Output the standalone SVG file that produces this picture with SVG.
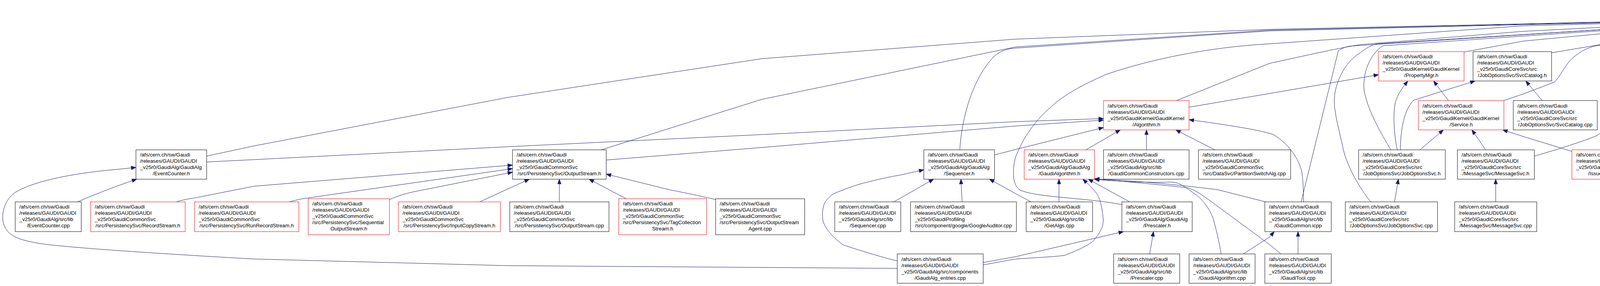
<svg xmlns="http://www.w3.org/2000/svg" width="7794" height="731" viewBox="0 0 7794 731">
<style>
.k{fill:#fff;stroke:#000;stroke-width:1}
.r{fill:#fff;stroke:#ff0000;stroke-width:1}
.g{fill:#bfbfbf;stroke:#000;stroke-width:1}
text{font-family:"Liberation Sans",Arial,sans-serif;font-size:13.33px;fill:#000}
.c{text-anchor:middle}
.e{fill:none;stroke:#191970;stroke-width:1;marker-end:url(#ah)}
</style>
<defs>
<marker id="ah" markerUnits="userSpaceOnUse" markerWidth="13" markerHeight="10" refX="12" refY="4.5" orient="auto" overflow="visible">
<path d="M0,0 L12,4.5 L0,9 z" fill="#191970" stroke="#191970" stroke-width="1"/>
</marker>
</defs>
<rect x="0" y="0" width="7794" height="731" fill="#fff"/>
<g id="edges">
<path class="e" d="M529,399 L650,373 L1300,249 L1950,150 L2600,100 L3250,75 L3900,61 L4429,48"/>
<path class="e" d="M1536,384 L1950,254 L2600,120 L3250,77 L3900,62 L4429,50"/>
<path class="e" d="M2457,384 C2462,300 2490,200 2545,144 C2560,130 2580,124 2600,123 L3250,79 L3900,63 L4429,51"/>
<path class="e" d="M2872,523 C2780,505 2650,505 2610,485 C2590,470 2592,430 2600,401 C2620,350 2650,310 2683,280 C2720,245 2760,222 2832,190 C2950,150 3100,120 3250,112 L3900,66 L4429,52"/>
<path class="e" d="M3012,257 L3250,162 C3320,147 3420,124 3482,114 L3900,80 L4429,53"/>
<path class="e" d="M3331,516 L3426,130 C3435,123 3445,120 3455,118 L4429,54"/>
<path class="e" d="M3509,516 C3480,480 3445,420 3437,373 C3425,320 3414,280 3416,250 C3418,215 3440,160 3482,135 C3495,125 3510,115 3524,112 L4429,55"/>
<path class="e" d="M3561,384 C3535,340 3500,280 3492,230 C3488,190 3505,140 3540,117 L4429,56"/>
<path class="e" d="M3577,384 C3568,340 3566,290 3572,262 C3578,240 3592,222 3604,207"/>
<path class="e" d="M3585,384 C3585,330 3595,280 3619,256 L3776,207"/>
<path class="e" d="M3634,384 L3695,332"/>
<path class="e" d="M3804,384 L3768,332"/>
<path class="e" d="M4024,387 L3900,349 L3847,332"/>
<path class="e" d="M3708,257 L3670,207"/>
<path class="e" d="M3850,257 L3900,240 C3940,225 3965,215 3979,210 C3995,195 4005,170 4020,154 C4040,135 4060,122 4087,117 L4429,57"/>
<path class="e" d="M3928,399 C3960,390 4060,360 4091,345 C4110,330 4118,300 4117,270 C4115,240 4100,210 4101,196 C4102,165 4110,130 4140,112 L4429,58"/>
<path class="e" d="M4128,384 C4140,360 4148,300 4149,280 C4150,250 4138,220 4136,210 C4130,185 4124,160 4127,150 C4130,130 4150,112 4174,107 L4429,59"/>
<path class="e" d="M3748,133 L3900,105 L4429,55"/>
<path class="e" d="M3972,135 L4429,58"/>
<path class="e" d="M3948,257 L3906,207"/>
<path class="e" d="M4351,132 L4457,82"/>
<path class="e" d="M4538,132 L4538,82"/>
<path class="e" d="M4720,132 L4618,82"/>
<path class="e" d="M4927,135 L4647,69"/>
<path class="e" d="M5176,132 C5017,91 4806,63 4647,63"/>
<path class="e" d="M5417,132 C5186,89 4878,60 4647,60"/>
<path class="e" d="M5659,132 C5355,88 4951,58 4647,58"/>
<path class="e" d="M5902,132 C5526,86 5024,56 4647,56"/>
<path class="e" d="M6096,132 C5661,85 5082,54 4647,54"/>
<path class="e" d="M6288,132 C5796,84 5139,52 4647,52"/>
<path class="e" d="M6482,132 C5932,83 5198,50 4647,50"/>
<path class="e" d="M6676,132 C6067,82 5256,49 4647,49"/>
<path class="e" d="M6914,132 C6234,82 5327,48 4647,48"/>
<path class="e" d="M7108,132 C6370,81 5385,47 4647,47"/>
<path class="e" d="M7349,132 C6538,80 5458,46 4647,46"/>
<path class="e" d="M7588,132 C6706,80 5529,45 4647,45"/>
<path class="e" d="M529,414 L650,408 L1300,375 L1950,344 L2600,311 L2825,303"/>
<path class="e" d="M1552,409 L1950,377 L2600,322 L2825,307"/>
<path class="e" d="M2546,396 L2600,382 L2825,326"/>
<path class="e" d="M2778,384 L2868,332"/>
<path class="e" d="M2935,383 L2935,332"/>
<path class="e" d="M3112,384 L3010,332"/>
<path class="e" d="M3337,516 C3337,480 3335,443 3330,430 C3320,400 3300,370 3262,345 C3240,335 3150,320 3044,306"/>
<path class="e" d="M3044,274 L3250,239 L3529,191"/>
<path class="e" d="M451,516 C470,510 490,507 498,506 L650,476 L1312,422"/>
<path class="e" d="M741,516 C755,512 765,510 774,508 L1312,431"/>
<path class="e" d="M997,510 C1020,500 1040,494 1065,489 L1312,440"/>
<path class="e" d="M1228,516 L1300,483 L1355,458"/>
<path class="e" d="M1432,516 L1432,458"/>
<path class="e" d="M1605,509 L1508,458"/>
<path class="e" d="M1832,510 C1780,498 1720,486 1714,485 L1552,445"/>
<path class="e" d="M199,516 C230,502 290,478 350,458"/>
<path class="e" d="M2297,686 L1300,679 L650,662 C400,648 160,632 100,622 C40,612 20,600 10,575 C0,545 15,505 42,490 C80,468 150,450 249,438 L348,428"/>
<path class="e" d="M2288,516 L2390,458"/>
<path class="e" d="M2463,516 L2460,458"/>
<path class="e" d="M2639,516 C2620,505 2605,498 2600,495 L2533,458"/>
<path class="e" d="M2297,667 C2230,650 2170,630 2157,625 C2130,605 2108,580 2106,559 C2104,540 2108,525 2112,517 C2120,505 2130,497 2137,494 C2170,480 2200,470 2219,466 C2260,455 2300,448 2302,448 L2365,434"/>
<path class="e" d="M2517,677 L2600,662 C2660,658 2700,656 2724,653 C2760,640 2790,625 2799,615 C2818,595 2826,575 2824,559 C2822,530 2815,505 2807,494 C2795,478 2783,468 2772,458"/>
<path class="e" d="M2517,671 L2600,656 L2876,592"/>
<path class="e" d="M2711,516 L2711,458"/>
<path class="e" d="M2892,516 L2786,458"/>
<path class="e" d="M3126,649 C3120,610 3110,575 3106,559 C3095,530 3075,505 3056,494 C3040,482 3025,472 3015,468 C3000,464 2985,466 2973,466 C2900,466 2840,462 2801,458"/>
<path class="e" d="M3240,516 L3118,485 C3000,470 2900,462 2802,457"/>
<path class="e" d="M3279,649 L3250,625 L3110,522 C3080,500 3060,485 3040,480 C2950,470 2860,462 2802,458"/>
<path class="e" d="M3183,649 L3250,606 L3262,592"/>
<path class="e" d="M3323,649 L3323,592"/>
<path class="e" d="M2943,649 L2953,592"/>
<path class="e" d="M3570,516 L3580,458"/>
<path class="e" d="M3829,516 L3829,458"/>
</g>
<g id="n_Property_h"><rect class="g" x="4429" y="7" width="218" height="75"/><text x="4439.5" y="24">/afs/cern.ch/sw/Gaudi</text><text x="4439.5" y="40">/releases/GAUDI/GAUDI</text><text x="4439.5" y="56">_v25r0/GaudiKernel/GaudiKernel</text><text class="c" x="4538" y="72">/Property.h</text></g>
<g id="n_PropertyMgr_h"><rect class="r" x="3529" y="132" width="219" height="75"/><text x="3539.5" y="149">/afs/cern.ch/sw/Gaudi</text><text x="3539.5" y="165">/releases/GAUDI/GAUDI</text><text x="3539.5" y="181">_v25r0/GaudiKernel/GaudiKernel</text><text class="c" x="3638.5" y="197">/PropertyMgr.h</text></g>
<g id="n_SvcCatalog_h"><rect class="k" x="3771" y="132" width="201" height="75"/><text x="3781.5" y="149">/afs/cern.ch/sw/Gaudi</text><text x="3781.5" y="165">/releases/GAUDI/GAUDI</text><text x="3781.5" y="181">_v25r0/GaudiCoreSvc/src</text><text class="c" x="3871.5" y="197">/JobOptionsSvc/SvcCatalog.h</text></g>
<g id="n_HistogramSvc_cpp"><rect class="k" x="4148" y="132" width="245" height="75"/><text x="4158.5" y="149">/afs/cern.ch/sw/Gaudi</text><text x="4158.5" y="165">/releases/GAUDI/GAUDI</text><text x="4158.5" y="181">_v25r0/GaudiCommonSvc</text><text class="c" x="4270.5" y="197">/src/HistogramSvc/HistogramSvc.cpp</text></g>
<g id="n_DataOnDemandSvc_cpp"><rect class="k" x="4417" y="132" width="244" height="75"/><text x="4427.5" y="149">/afs/cern.ch/sw/Gaudi</text><text x="4427.5" y="165">/releases/GAUDI/GAUDI</text><text x="4427.5" y="181">_v25r0/GaudiCoreSvc/src</text><text class="c" x="4539" y="197">/IncidentSvc/DataOnDemandSvc.cpp</text></g>
<g id="n_AppReturnCode_h"><rect class="r" x="4686" y="132" width="218" height="75"/><text x="4696.5" y="149">/afs/cern.ch/sw/Gaudi</text><text x="4696.5" y="165">/releases/GAUDI/GAUDI</text><text x="4696.5" y="181">_v25r0/GaudiKernel/GaudiKernel</text><text class="c" x="4795" y="197">/AppReturnCode.h</text></g>
<g id="n_CommandProperty_h"><rect class="r" x="4927" y="132" width="220" height="75"/><text x="4937.5" y="149">/afs/cern.ch/sw/Gaudi</text><text x="4937.5" y="165">/releases/GAUDI/GAUDI</text><text x="4937.5" y="181">_v25r0/GaudiKernel/GaudiKernel</text><text class="c" x="5037" y="197">/CommandProperty.h</text></g>
<g id="n_EventSelectorDataStream_h"><rect class="r" x="5171" y="132" width="219" height="75"/><text x="5181.5" y="149">/afs/cern.ch/sw/Gaudi</text><text x="5181.5" y="165">/releases/GAUDI/GAUDI</text><text x="5181.5" y="181">_v25r0/GaudiKernel/GaudiKernel</text><text class="c" x="5280.5" y="197">/EventSelectorDataStream.h</text></g>
<g id="n_HistoProperty_h"><rect class="r" x="5414" y="132" width="218" height="75"/><text x="5424.5" y="149">/afs/cern.ch/sw/Gaudi</text><text x="5424.5" y="165">/releases/GAUDI/GAUDI</text><text x="5424.5" y="181">_v25r0/GaudiKernel/GaudiKernel</text><text class="c" x="5523" y="197">/HistoProperty.h</text></g>
<g id="n_PropertyList_h"><rect class="k" x="5656" y="132" width="219" height="75"/><text x="5666.5" y="149">/afs/cern.ch/sw/Gaudi</text><text x="5666.5" y="165">/releases/GAUDI/GAUDI</text><text x="5666.5" y="181">_v25r0/GaudiKernel/GaudiKernel</text><text class="c" x="5765.5" y="197">/PropertyList.h</text></g>
<g id="n_GaudiMain_cpp"><rect class="k" x="5899" y="132" width="170" height="75"/><text x="5909.5" y="149">/afs/cern.ch/sw/Gaudi</text><text x="5909.5" y="165">/releases/GAUDI/GAUDI</text><text x="5909.5" y="181">_v25r0/GaudiKernel/src</text><text class="c" x="5984" y="197">/Lib/GaudiMain.cpp</text></g>
<g id="n_HistoryObj_cpp"><rect class="k" x="6093" y="132" width="169" height="75"/><text x="6103.5" y="149">/afs/cern.ch/sw/Gaudi</text><text x="6103.5" y="165">/releases/GAUDI/GAUDI</text><text x="6103.5" y="181">_v25r0/GaudiKernel/src</text><text class="c" x="6177.5" y="197">/Lib/HistoryObj.cpp</text></g>
<g id="n_JobHistory_cpp"><rect class="k" x="6285" y="132" width="171" height="75"/><text x="6295.5" y="149">/afs/cern.ch/sw/Gaudi</text><text x="6295.5" y="165">/releases/GAUDI/GAUDI</text><text x="6295.5" y="181">_v25r0/GaudiKernel/src</text><text class="c" x="6370.5" y="197">/Lib/JobHistory.cpp</text></g>
<g id="n_Property_cpp"><rect class="k" x="6479" y="132" width="169" height="75"/><text x="6489.5" y="149">/afs/cern.ch/sw/Gaudi</text><text x="6489.5" y="165">/releases/GAUDI/GAUDI</text><text x="6489.5" y="181">_v25r0/GaudiKernel/src</text><text class="c" x="6563.5" y="197">/Lib/Property.cpp</text></g>
<g id="n_IoComponentMgr_cpp"><rect class="k" x="6673" y="132" width="215" height="75"/><text x="6683.5" y="149">/afs/cern.ch/sw/Gaudi</text><text x="6683.5" y="165">/releases/GAUDI/GAUDI</text><text x="6683.5" y="181">_v25r0/GaudiMP/src/component</text><text class="c" x="6780.5" y="197">/IoComponentMgr.cpp</text></g>
<g id="n_Helpers_cpp"><rect class="k" x="6911" y="132" width="170" height="75"/><text x="6921.5" y="149">/afs/cern.ch/sw/Gaudi</text><text x="6921.5" y="165">/releases/GAUDI/GAUDI</text><text x="6921.5" y="181">_v25r0/GaudiPython/src</text><text class="c" x="6996" y="197">/Lib/Helpers.cpp</text></g>
<g id="n_NTupleSvc_cpp"><rect class="k" x="7105" y="132" width="216" height="75"/><text x="7115.5" y="149">/afs/cern.ch/sw/Gaudi</text><text x="7115.5" y="165">/releases/GAUDI/GAUDI</text><text x="7115.5" y="181">_v25r0/GaudiSvc/src/NTupleSvc</text><text class="c" x="7213" y="197">/NTupleSvc.cpp</text></g>
<g id="n_TagCollectionSvc_cpp"><rect class="k" x="7346" y="132" width="216" height="75"/><text x="7356.5" y="149">/afs/cern.ch/sw/Gaudi</text><text x="7356.5" y="165">/releases/GAUDI/GAUDI</text><text x="7356.5" y="181">_v25r0/GaudiSvc/src/NTupleSvc</text><text class="c" x="7454" y="197">/TagCollectionSvc.cpp</text></g>
<g id="n_THistSvc_cpp"><rect class="k" x="7585" y="132" width="204" height="75"/><text x="7595.5" y="149">/afs/cern.ch/sw/Gaudi</text><text x="7595.5" y="165">/releases/GAUDI/GAUDI</text><text x="7595.5" y="181">_v25r0/GaudiSvc/src/THistSvc</text><text class="c" x="7687" y="197">/THistSvc.cpp</text></g>
<g id="n_Algorithm_h"><rect class="r" x="2825" y="257" width="219" height="75"/><text x="2835.5" y="275">/afs/cern.ch/sw/Gaudi</text><text x="2835.5" y="291">/releases/GAUDI/GAUDI</text><text x="2835.5" y="307">_v25r0/GaudiKernel/GaudiKernel</text><text class="c" x="2934.5" y="323">/Algorithm.h</text></g>
<g id="n_Service_h"><rect class="r" x="3631" y="257" width="219" height="75"/><text x="3641.5" y="275">/afs/cern.ch/sw/Gaudi</text><text x="3641.5" y="291">/releases/GAUDI/GAUDI</text><text x="3641.5" y="307">_v25r0/GaudiKernel/GaudiKernel</text><text class="c" x="3740.5" y="323">/Service.h</text></g>
<g id="n_SvcCatalog_cpp"><rect class="k" x="3874" y="257" width="215" height="75"/><text x="3884.5" y="275">/afs/cern.ch/sw/Gaudi</text><text x="3884.5" y="291">/releases/GAUDI/GAUDI</text><text x="3884.5" y="307">_v25r0/GaudiCoreSvc/src</text><text class="c" x="3981.5" y="323">/JobOptionsSvc/SvcCatalog.cpp</text></g>
<g id="n_EventCounter_h"><rect class="k" x="348" y="383" width="181" height="75"/><text x="358.5" y="400">/afs/cern.ch/sw/Gaudi</text><text x="358.5" y="416">/releases/GAUDI/GAUDI</text><text x="358.5" y="432">_v25r0/GaudiAlg/GaudiAlg</text><text class="c" x="438.5" y="448">/EventCounter.h</text></g>
<g id="n_OutputStream_h"><rect class="k" x="1312" y="383" width="240" height="75"/><text x="1322.5" y="400">/afs/cern.ch/sw/Gaudi</text><text x="1322.5" y="416">/releases/GAUDI/GAUDI</text><text x="1322.5" y="432">_v25r0/GaudiCommonSvc</text><text class="c" x="1432" y="448">/src/PersistencySvc/OutputStream.h</text></g>
<g id="n_Sequencer_h"><rect class="k" x="2365" y="383" width="181" height="75"/><text x="2375.5" y="400">/afs/cern.ch/sw/Gaudi</text><text x="2375.5" y="416">/releases/GAUDI/GAUDI</text><text x="2375.5" y="432">_v25r0/GaudiAlg/GaudiAlg</text><text class="c" x="2455.5" y="448">/Sequencer.h</text></g>
<g id="n_GaudiAlgorithm_h"><rect class="r" x="2622" y="383" width="180" height="75"/><text x="2632.5" y="400">/afs/cern.ch/sw/Gaudi</text><text x="2632.5" y="416">/releases/GAUDI/GAUDI</text><text x="2632.5" y="432">_v25r0/GaudiAlg/GaudiAlg</text><text class="c" x="2712" y="448">/GaudiAlgorithm.h</text></g>
<g id="n_GaudiCommonConstructors_cpp"><rect class="k" x="2825" y="383" width="219" height="75"/><text x="2835.5" y="400">/afs/cern.ch/sw/Gaudi</text><text x="2835.5" y="416">/releases/GAUDI/GAUDI</text><text x="2835.5" y="432">_v25r0/GaudiAlg/src/lib</text><text class="c" x="2934.5" y="448">/GaudiCommonConstructors.cpp</text></g>
<g id="n_PartitionSwitchAlg_cpp"><rect class="k" x="3068" y="383" width="236" height="75"/><text x="3078.5" y="400">/afs/cern.ch/sw/Gaudi</text><text x="3078.5" y="416">/releases/GAUDI/GAUDI</text><text x="3078.5" y="432">_v25r0/GaudiCommonSvc</text><text class="c" x="3186" y="448">/src/DataSvc/PartitionSwitchAlg.cpp</text></g>
<g id="n_JobOptionsSvc_h"><rect class="k" x="3478" y="383" width="222" height="75"/><text x="3488.5" y="400">/afs/cern.ch/sw/Gaudi</text><text x="3488.5" y="416">/releases/GAUDI/GAUDI</text><text x="3488.5" y="432">_v25r0/GaudiCoreSvc/src</text><text class="c" x="3589" y="448">/JobOptionsSvc/JobOptionsSvc.h</text></g>
<g id="n_MessageSvc_h"><rect class="k" x="3731" y="383" width="197" height="75"/><text x="3741.5" y="400">/afs/cern.ch/sw/Gaudi</text><text x="3741.5" y="416">/releases/GAUDI/GAUDI</text><text x="3741.5" y="432">_v25r0/GaudiCoreSvc/src</text><text class="c" x="3829.5" y="448">/MessageSvc/MessageSvc.h</text></g>
<g id="n_IssueLogger_h"><rect class="r" x="4024" y="383" width="170" height="75"/><text x="4034.5" y="400">/afs/cern.ch/sw/Gaudi</text><text x="4034.5" y="416">/releases/GAUDI/GAUDI</text><text x="4034.5" y="432">_v25r0/GaudiMonitor/src</text><text class="c" x="4109" y="448">/IssueLogger.h</text></g>
<g id="n_EventCounter_cpp"><rect class="k" x="39" y="516" width="169" height="76"/><text x="49.5" y="533">/afs/cern.ch/sw/Gaudi</text><text x="49.5" y="549">/releases/GAUDI/GAUDI</text><text x="49.5" y="565">_v25r0/GaudiAlg/src/lib</text><text class="c" x="123.5" y="581">/EventCounter.cpp</text></g>
<g id="n_RecordStream_h"><rect class="r" x="232" y="516" width="242" height="76"/><text x="242.5" y="533">/afs/cern.ch/sw/Gaudi</text><text x="242.5" y="549">/releases/GAUDI/GAUDI</text><text x="242.5" y="565">_v25r0/GaudiCommonSvc</text><text class="c" x="353" y="581">/src/PersistencySvc/RecordStream.h</text></g>
<g id="n_RunRecordStream_h"><rect class="r" x="498" y="516" width="267" height="76"/><text x="508.5" y="533">/afs/cern.ch/sw/Gaudi</text><text x="508.5" y="549">/releases/GAUDI/GAUDI</text><text x="508.5" y="565">_v25r0/GaudiCommonSvc</text><text class="c" x="631.5" y="581">/src/PersistencySvc/RunRecordStream.h</text></g>
<g id="n_SequentialOutputStream_h"><rect class="r" x="789" y="508" width="208" height="92"/><text x="799.5" y="525">/afs/cern.ch/sw/Gaudi</text><text x="799.5" y="541">/releases/GAUDI/GAUDI</text><text x="799.5" y="557">_v25r0/GaudiCommonSvc</text><text x="799.5" y="573">/src/PersistencySvc/Sequential</text><text class="c" x="893" y="589">OutputStream.h</text></g>
<g id="n_InputCopyStream_h"><rect class="r" x="1020" y="516" width="261" height="76"/><text x="1030.5" y="533">/afs/cern.ch/sw/Gaudi</text><text x="1030.5" y="549">/releases/GAUDI/GAUDI</text><text x="1030.5" y="565">_v25r0/GaudiCommonSvc</text><text class="c" x="1150.5" y="581">/src/PersistencySvc/InputCopyStream.h</text></g>
<g id="n_OutputStream_cpp"><rect class="k" x="1305" y="516" width="254" height="76"/><text x="1315.5" y="533">/afs/cern.ch/sw/Gaudi</text><text x="1315.5" y="549">/releases/GAUDI/GAUDI</text><text x="1315.5" y="565">_v25r0/GaudiCommonSvc</text><text class="c" x="1432" y="581">/src/PersistencySvc/OutputStream.cpp</text></g>
<g id="n_TagCollectionStream_h"><rect class="r" x="1584" y="508" width="225" height="92"/><text x="1594.5" y="525">/afs/cern.ch/sw/Gaudi</text><text x="1594.5" y="541">/releases/GAUDI/GAUDI</text><text x="1594.5" y="557">_v25r0/GaudiCommonSvc</text><text x="1594.5" y="573">/src/PersistencySvc/TagCollection</text><text class="c" x="1696.5" y="589">Stream.h</text></g>
<g id="n_OutputStreamAgent_cpp"><rect class="k" x="1832" y="508" width="228" height="92"/><text x="1842.5" y="525">/afs/cern.ch/sw/Gaudi</text><text x="1842.5" y="541">/releases/GAUDI/GAUDI</text><text x="1842.5" y="557">_v25r0/GaudiCommonSvc</text><text x="1842.5" y="573">/src/PersistencySvc/OutputStream</text><text class="c" x="1946" y="589">Agent.cpp</text></g>
<g id="n_Sequencer_cpp"><rect class="k" x="2137" y="516" width="169" height="76"/><text x="2147.5" y="533">/afs/cern.ch/sw/Gaudi</text><text x="2147.5" y="549">/releases/GAUDI/GAUDI</text><text x="2147.5" y="565">_v25r0/GaudiAlg/src/lib</text><text class="c" x="2221.5" y="581">/Sequencer.cpp</text></g>
<g id="n_GoogleAuditor_cpp"><rect class="k" x="2331" y="516" width="271" height="76"/><text x="2341.5" y="533">/afs/cern.ch/sw/Gaudi</text><text x="2341.5" y="549">/releases/GAUDI/GAUDI</text><text x="2341.5" y="565">_v25r0/GaudiProfiling</text><text class="c" x="2466.5" y="581">/src/component/google/GoogleAuditor.cpp</text></g>
<g id="n_GetAlgs_cpp"><rect class="k" x="2627" y="516" width="170" height="76"/><text x="2637.5" y="533">/afs/cern.ch/sw/Gaudi</text><text x="2637.5" y="549">/releases/GAUDI/GAUDI</text><text x="2637.5" y="565">_v25r0/GaudiAlg/src/lib</text><text class="c" x="2712" y="581">/GetAlgs.cpp</text></g>
<g id="n_Prescaler_h"><rect class="k" x="2872" y="516" width="180" height="76"/><text x="2882.5" y="533">/afs/cern.ch/sw/Gaudi</text><text x="2882.5" y="549">/releases/GAUDI/GAUDI</text><text x="2882.5" y="565">_v25r0/GaudiAlg/GaudiAlg</text><text class="c" x="2962" y="581">/Prescaler.h</text></g>
<g id="n_GaudiCommon_icpp"><rect class="k" x="3238" y="516" width="170" height="76"/><text x="3248.5" y="533">/afs/cern.ch/sw/Gaudi</text><text x="3248.5" y="549">/releases/GAUDI/GAUDI</text><text x="3248.5" y="565">_v25r0/GaudiAlg/src/lib</text><text class="c" x="3323" y="581">/GaudiCommon.icpp</text></g>
<g id="n_JobOptionsSvc_cpp"><rect class="k" x="3444" y="516" width="236" height="76"/><text x="3454.5" y="533">/afs/cern.ch/sw/Gaudi</text><text x="3454.5" y="549">/releases/GAUDI/GAUDI</text><text x="3454.5" y="565">_v25r0/GaudiCoreSvc/src</text><text class="c" x="3562" y="581">/JobOptionsSvc/JobOptionsSvc.cpp</text></g>
<g id="n_MessageSvc_cpp"><rect class="k" x="3724" y="516" width="210" height="76"/><text x="3734.5" y="533">/afs/cern.ch/sw/Gaudi</text><text x="3734.5" y="549">/releases/GAUDI/GAUDI</text><text x="3734.5" y="565">_v25r0/GaudiCoreSvc/src</text><text class="c" x="3829" y="581">/MessageSvc/MessageSvc.cpp</text></g>
<g id="n_GaudiAlg_entries_cpp"><rect class="k" x="2297" y="649" width="220" height="75"/><text x="2307.5" y="667">/afs/cern.ch/sw/Gaudi</text><text x="2307.5" y="683">/releases/GAUDI/GAUDI</text><text x="2307.5" y="699">_v25r0/GaudiAlg/src/components</text><text class="c" x="2407" y="715">/GaudiAlg_entries.cpp</text></g>
<g id="n_Prescaler_cpp"><rect class="k" x="2851" y="649" width="169" height="75"/><text x="2861.5" y="667">/afs/cern.ch/sw/Gaudi</text><text x="2861.5" y="683">/releases/GAUDI/GAUDI</text><text x="2861.5" y="699">_v25r0/GaudiAlg/src/lib</text><text class="c" x="2935.5" y="715">/Prescaler.cpp</text></g>
<g id="n_GaudiAlgorithm_cpp"><rect class="k" x="3044" y="649" width="169" height="75"/><text x="3054.5" y="667">/afs/cern.ch/sw/Gaudi</text><text x="3054.5" y="683">/releases/GAUDI/GAUDI</text><text x="3054.5" y="699">_v25r0/GaudiAlg/src/lib</text><text class="c" x="3128.5" y="715">/GaudiAlgorithm.cpp</text></g>
<g id="n_GaudiTool_cpp"><rect class="k" x="3238" y="649" width="170" height="75"/><text x="3248.5" y="667">/afs/cern.ch/sw/Gaudi</text><text x="3248.5" y="683">/releases/GAUDI/GAUDI</text><text x="3248.5" y="699">_v25r0/GaudiAlg/src/lib</text><text class="c" x="3323" y="715">/GaudiTool.cpp</text></g>
</svg>
